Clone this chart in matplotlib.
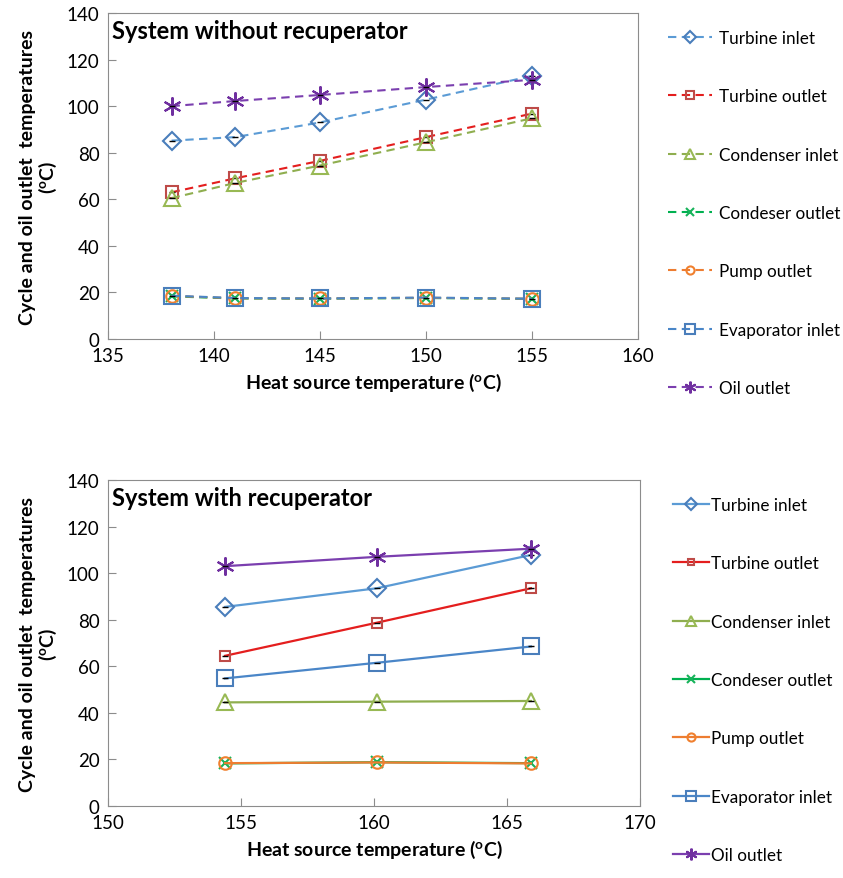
import matplotlib
matplotlib.use("Agg")
import matplotlib.pyplot as plt

plt.rcParams['font.family'] = ['Lato', 'DejaVu Sans']
plt.rcParams['mathtext.fontset'] = 'custom'
plt.rcParams['mathtext.bf'] = 'Lato:bold'
plt.rcParams['mathtext.rm'] = 'Lato'

series_names = ["Turbine inlet", "Turbine outlet", "Condenser inlet", "Condeser outlet",
                "Pump outlet", "Evaporator inlet", "Oil outlet"]

# Top: system without recuperator
x_top = [138, 141, 145, 150, 155]
top_turbine_inlet = [85.2, 86.7, 93.0, 102.8, 113.0]
top_turbine_outlet = [63.0, 69.0, 76.5, 86.7, 96.8]
top_condenser_inlet = [60.5, 67.0, 74.5, 84.5, 94.8]
top_condenser_outlet = [18.3, 17.4, 17.3, 17.6, 17.2]
top_pump_outlet = [18.5, 17.5, 17.4, 17.7, 17.3]
top_evaporator_inlet = [18.6, 17.6, 17.4, 17.8, 17.3]
top_oil_outlet = [100.0, 102.2, 104.8, 108.2, 111.3]

# Bottom: system with recuperator
x_bot = [154.4, 160.1, 165.9]
bot_turbine_inlet = [85.5, 93.5, 107.8]
bot_turbine_outlet = [64.5, 78.7, 93.5]
bot_condenser_inlet = [44.5, 44.8, 45.1]
bot_condenser_outlet = [18.3, 18.8, 18.4]
bot_pump_outlet = [18.4, 18.7, 18.3]
bot_evaporator_inlet = [54.8, 61.5, 68.5]
bot_oil_outlet = [103.0, 107.0, 110.5]

top_vals = [top_turbine_inlet, top_turbine_outlet, top_condenser_inlet, top_condenser_outlet,
            top_pump_outlet, top_evaporator_inlet, top_oil_outlet]
bot_vals = [bot_turbine_inlet, bot_turbine_outlet, bot_condenser_inlet, bot_condenser_outlet,
            bot_pump_outlet, bot_evaporator_inlet, bot_oil_outlet]

line_colors = ["#5B9BD5", "#E41E1E", "#8FAE4F", "#00B050", "#ED7D31", "#4A86C8", "#7B3FAF"]
marker_colors = ["#4A7EBB", "#BE4B48", "#98B954", "#17B35A", "#F0802F", "#4A7EBB", "#7030A0"]
markers = ["D", "s", "^", "x", "o", "s", (6, 2, 0)]
top_msizes = [9, 9, 12, 9, 9, 11, 13]
bot_msizes = [9, 7, 12, 9, 9, 11, 13]

fig = plt.figure(figsize=(8.43, 8.79), dpi=100)
ax1 = fig.add_axes([108/843, 1-340/879, 530/843, 326/879])
ax2 = fig.add_axes([108/843, 1-807/879, 532/843, 326/879])


def draw(ax, x, vals, msizes, dashed):
    handles = []
    for i, (name, v) in enumerate(zip(series_names, vals)):
        mk = markers[i]
        (ln,) = ax.plot(x, v, color=line_colors[i], lw=1.6 if not dashed else 1.5,
                        marker=mk, markersize=msizes[i],
                        markerfacecolor='none', markeredgecolor=marker_colors[i],
                        markeredgewidth=1.5, label=name)
        if dashed:
            ln.set_dashes((4, 2.6))
        if i not in (3, 4):
            ax.plot(x, v, ls='none', marker='_', markersize=5, color='black', mew=1)
        handles.append(ln)
    for s in ax.spines.values():
        s.set_color('#8C8C8C')
    ax.tick_params(direction='in', length=6, color='#8C8C8C', labelsize=13.5, pad=6)
    ax.set_ylim(0, 140)
    ax.set_yticks(range(0, 141, 20))
    ax.set_ylabel("Cycle and oil outlet  temperatures\n" + r"($\mathbf{^{o}}$C)",
                  fontsize=14, fontweight='bold', labelpad=6, linespacing=1.05)
    ax.set_xlabel(r"Heat source temperature ($\mathbf{^{o}}$C)", fontsize=14,
                  fontweight='bold', labelpad=5)
    return handles


h1 = draw(ax1, x_top, top_vals, top_msizes, True)
ax1.set_xlim(135, 160)
ax1.set_xticks(range(135, 161, 5))
ax1.text(0.008, 0.945, "System without recuperator", transform=ax1.transAxes,
         fontsize=17, fontweight='bold', va='center', ha='left')

h2 = draw(ax2, x_bot, bot_vals, bot_msizes, False)
ax2.set_xlim(150, 170)
ax2.set_xticks(range(150, 171, 5))
ax2.text(0.008, 0.945, "System with recuperator", transform=ax2.transAxes,
         fontsize=17, fontweight='bold', va='center', ha='left')

fig.legend(handles=h1, labels=series_names, loc='upper left',
           bbox_to_anchor=(668/843, 1-31/879), frameon=False, fontsize=12.3,
           labelspacing=2.48, handlelength=2.6, handletextpad=0.4,
           borderpad=0, borderaxespad=0, markerscale=0.65)
fig.legend(handles=h2, labels=series_names, loc='upper left',
           bbox_to_anchor=(673/843, 1-498/879), frameon=False, fontsize=12.3,
           labelspacing=2.48, handlelength=2.1, handletextpad=0.15,
           borderpad=0, borderaxespad=0, markerscale=0.65)

fig.savefig("out.png", dpi=100)
